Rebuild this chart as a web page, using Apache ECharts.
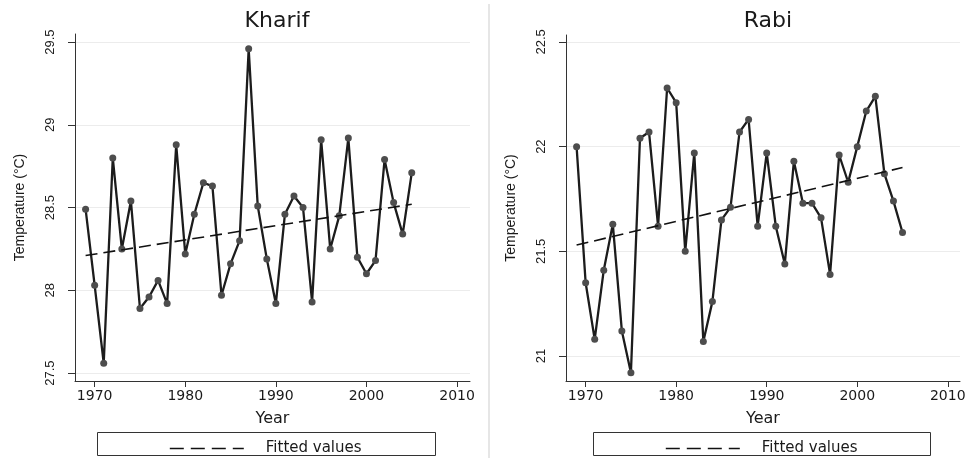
<!DOCTYPE html>
<html>
<head>
<meta charset="utf-8">
<script src="https://cdn.jsdelivr.net/npm/echarts@6/dist/echarts.min.js"></script>
<style>html,body{margin:0;padding:0;background:#fff}#c{width:969px;height:458px}</style>
</head>
<body>
<div id="c"></div>
<script>
const years = [1969,1970,1971,1972,1973,1974,1975,1976,1977,1978,1979,1980,1981,1982,1983,1984,1985,1986,1987,1988,1989,1990,1991,1992,1993,1994,1995,1996,1997,1998,1999,2000,2001,2002,2003,2004,2005];
const kharif = [28.49,28.03,27.56,28.80,28.25,28.54,27.89,27.96,28.06,27.92,28.88,28.22,28.46,28.65,28.63,27.97,28.16,28.30,29.46,28.51,28.19,27.92,28.46,28.57,28.50,27.93,28.91,28.25,28.45,28.92,28.20,28.10,28.18,28.79,28.53,28.34,28.71];
const rabi = [22.00,21.35,21.08,21.41,21.63,21.12,20.92,22.04,22.07,21.62,22.28,22.21,21.50,21.97,21.07,21.26,21.65,21.71,22.07,22.13,21.62,21.97,21.62,21.44,21.93,21.73,21.73,21.66,21.39,21.96,21.83,22.00,22.17,22.24,21.87,21.74,21.59];
const kharifFit = [[1969, 28.21], [2005, 28.52]];
const rabiFit = [[1969, 21.53], [2005, 21.90]];
const xTicks = [1970, 1980, 1990, 2000, 2010];
const kharifTicks = [27.5, 28, 28.5, 29, 29.5];
const rabiTicks = [21, 21.5, 22, 22.5];
const titles = ['Kharif', 'Rabi'];

const wide = "'DejaVu Sans', 'Liberation Sans', sans-serif";
const sans = "'Liberation Sans', Arial, sans-serif";
const txt = '#1a1a1a';

function pairs(vals) { return years.map((y, i) => [y, vals[i]]); }

function xAx(gi) {
  return {
    type: 'value', gridIndex: gi, min: 1967.83, max: gi === 0 ? 2011.43 : 2011.35,
    name: 'Year', nameLocation: 'middle', nameGap: 30,
    nameTextStyle: { fontFamily: wide, fontSize: 16, color: txt },
    axisLine: { show: true, lineStyle: { color: '#333', width: 1 } },
    axisTick: { show: true, length: 6, customValues: xTicks, lineStyle: { color: '#333' } },
    axisLabel: { customValues: xTicks, margin: 8, fontFamily: wide, fontSize: 14, color: txt, formatter: v => String(v) },
    splitLine: { show: false }
  };
}
function yAx(gi, ticks, mn, mx) {
  return {
    type: 'value', gridIndex: gi, min: mn, max: mx,
    name: 'Temperature (°C)', nameLocation: 'middle', nameGap: 48, nameRotate: 90,
    nameTextStyle: { fontFamily: sans, fontSize: 14, color: txt },
    axisLine: { show: true, lineStyle: { color: '#333', width: 1 } },
    axisTick: { show: true, length: 7, customValues: ticks, lineStyle: { color: '#333' } },
    axisLabel: { customValues: ticks, rotate: 90, margin: 18, fontFamily: sans, fontSize: 13, color: txt, formatter: v => String(v) },
    splitLine: { show: true, lineStyle: { color: '#ececec', width: 1 } }
  };
}
function dataSeries(gi, vals) {
  return {
    type: 'line', xAxisIndex: gi, yAxisIndex: gi, data: pairs(vals),
    symbol: 'circle', symbolSize: 7, showSymbol: true,
    lineStyle: { color: '#1c1c1c', width: 2.3 },
    itemStyle: { color: '#4d4d4d' }, silent: true, animation: false, z: 2
  };
}
function fitSeries(gi, d) {
  return {
    type: 'line', name: 'Fitted values', xAxisIndex: gi, yAxisIndex: gi, data: d,
    symbol: 'none', lineStyle: { color: '#111', width: 1.6, type: [12, 6] },
    itemStyle: { color: '#111' }, silent: true, animation: false, z: 3
  };
}
function legendAt(left) {
  return {
    left: left, top: 436, itemWidth: 74, itemHeight: 14, itemGap: 10,
    data: ['Fitted values'], selectedMode: false,
    itemStyle: { opacity: 0 },
    lineStyle: { type: [14, 7], width: 1.6, color: '#111' },
    textStyle: { fontFamily: wide, fontSize: 15, color: txt, padding: [0, 0, 0, 17] }
  };
}

const chart = echarts.init(document.getElementById('c'), null, { renderer: 'canvas' });
chart.setOption({
  animation: false,
  backgroundColor: '#fff',
  title: [
    { text: titles[0], left: 272, top: 5, textAlign: 'center', textStyle: { fontFamily: wide, fontSize: 22, fontWeight: 'normal', color: txt } },
    { text: titles[1], left: 763, top: 5, textAlign: 'center', textStyle: { fontFamily: wide, fontSize: 22, fontWeight: 'normal', color: txt } }
  ],
  grid: [
    { left: 75, top: 34, width: 395, height: 347 },
    { left: 566, top: 35, width: 394, height: 346 }
  ],
  xAxis: [xAx(0), xAx(1)],
  yAxis: [yAx(0, kharifTicks, 27.452, 29.549), yAx(1, rabiTicks, 20.881, 22.533)],
  legend: [legendAt(164), legendAt(660)],
  series: [dataSeries(0, kharif), fitSeries(0, kharifFit), dataSeries(1, rabi), fitSeries(1, rabiFit)],
  graphic: [
    { type: 'rect', shape: { x: 97.5, y: 432.5, width: 338, height: 23 }, style: { fill: 'none', stroke: '#333', lineWidth: 1 }, silent: true },
    { type: 'rect', shape: { x: 593.5, y: 432.5, width: 337, height: 23 }, style: { fill: 'none', stroke: '#333', lineWidth: 1 }, silent: true },
    { type: 'rect', shape: { x: 488, y: 4, width: 2, height: 454 }, style: { fill: '#e6e6e6' }, silent: true }
  ]
});
</script>
</body>
</html>
